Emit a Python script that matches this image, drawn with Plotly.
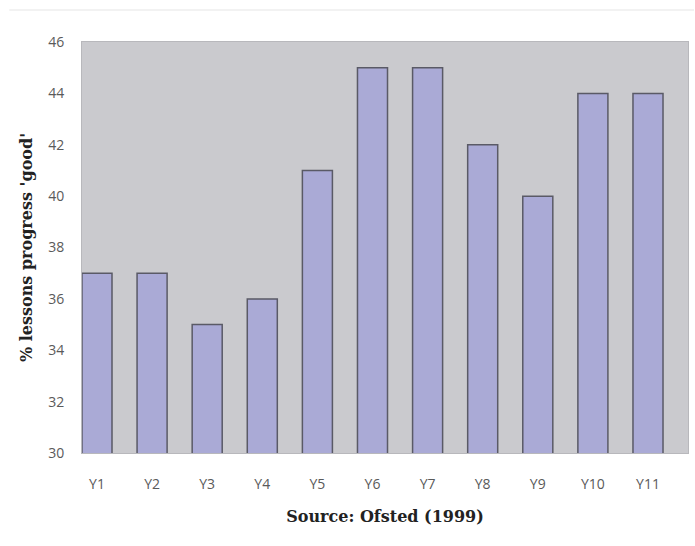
import plotly.graph_objects as go

categories = ["Y1", "Y2", "Y3", "Y4", "Y5", "Y6", "Y7", "Y8", "Y9", "Y10", "Y11"]
values = [37, 37, 35, 36, 41, 45, 45, 42, 40, 44, 44]
y_ticks = [30, 32, 34, 36, 38, 40, 42, 44, 46]

fig = go.Figure()
fig.add_trace(go.Bar(
    x=list(range(len(categories))),
    y=values,
    marker=dict(color="#aaaad6", line=dict(color="#5a5a66", width=1.5)),
    width=0.545,
))

fig.update_layout(
    width=695, height=546,
    margin=dict(l=82, r=7, t=42, b=93),
    paper_bgcolor="white",
    plot_bgcolor="#cacace",
    showlegend=False,
    shapes=[dict(type="line", xref="paper", yref="paper", x0=-0.12, x1=1.01,
                 y0=1.078, y1=1.078, line=dict(color="#eeeeee", width=1.5))],
)
fig.update_xaxes(
    tickmode="array",
    tickvals=list(range(len(categories))),
    ticktext=categories,
    range=[-0.272, 10.726],
    showgrid=False, zeroline=False,
    ticks="outside", ticklen=18, tickcolor="rgba(0,0,0,0)",
    tickfont=dict(family="Open Sans, sans-serif", size=14, color="#5a5a5a"),
    showline=True, linecolor="#b8b8bc", linewidth=1, mirror=True,
    title=dict(text="<b>Source: Ofsted (1999)</b>",
               font=dict(family="DejaVu Serif, serif", size=16, color="#222222"),
               standoff=19),
)
fig.update_yaxes(
    range=[30, 46],
    tickvals=y_ticks,
    showgrid=False, zeroline=False,
    ticks="outside", ticklen=14, tickcolor="rgba(0,0,0,0)",
    tickfont=dict(family="Open Sans, sans-serif", size=14, color="#5a5a5a"),
    showline=True, linecolor="#b8b8bc", linewidth=1, mirror=True,
    title=dict(text="<b>% lessons progress 'good'</b>",
               font=dict(family="DejaVu Serif, serif", size=16, color="#222222"),
               standoff=11),
)

fig.write_html("out.html")
